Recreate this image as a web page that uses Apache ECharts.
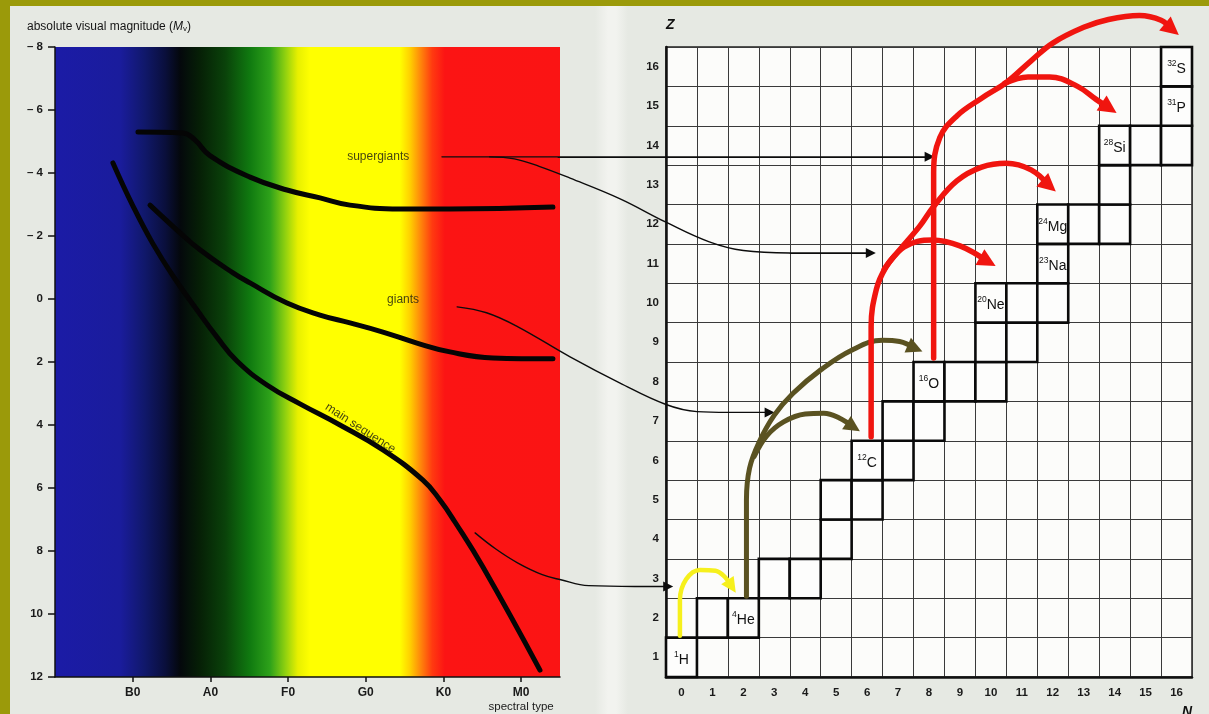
<!DOCTYPE html>
<html><head><meta charset="utf-8">
<script src="https://cdn.jsdelivr.net/npm/echarts@6/dist/echarts.min.js"></script>
<style>
html,body{margin:0;padding:0;background:#9b9a0a;width:1209px;height:714px;overflow:hidden}
#chart{position:absolute;left:10px;top:6px;width:1199px;height:708px;
background:linear-gradient(to right,#e6e9e3 0px,#e6e9e3 585px,#f2f3ef 598px,#f2f3ef 606px,#e6e9e3 618px,#e6e9e3 100%)}
</style></head><body><div id="chart"></div>
<script>
// ---------- data: Hertzsprung-Russell panel ----------
const spectralTypes = ['B0', 'A0', 'F0', 'G0', 'K0', 'M0'];
const spectralPositions = [1, 2, 3, 4, 5, 6];
const magnitudeTicks = [-8, -6, -4, -2, 0, 2, 4, 6, 8, 10, 12];
const mainSequence = [[0.746,-4.32],[1.004,-2.95],[1.261,-1.75],[1.544,-0.64],[1.828,0.35],[2.085,1.21],[2.342,1.97],[2.728,2.73],[3.153,3.33],[3.668,4.00],[4.221,4.79],[4.736,5.75],[4.955,6.38],[5.148,7.08],[5.508,8.51],[6.242,11.78]];
const giants = [[1.223,-2.98],[1.570,-2.19],[1.866,-1.56],[2.291,-0.83],[2.510,-0.51],[2.986,0.13],[3.411,0.51],[3.797,0.76],[4.221,1.05],[4.659,1.40],[5.084,1.68],[5.637,1.87],[6.409,1.90]];
const supergiants = [[1.068,-5.30],[1.647,-5.27],[1.80,-5.05],[1.995,-4.55],[2.510,-3.87],[2.986,-3.46],[3.411,-3.21],[3.797,-2.98],[4.440,-2.86],[5.084,-2.86],[6.409,-2.92]];
const regionNames = ['supergiants', 'giants', 'main sequence'];
const regionAnchors = [[4.16,-4.51],[4.48,0.03],[3.93,4.10]];

// ---------- data: nuclide (N,Z) panel ----------
const neutronNumbers = ['0','1','2','3','4','5','6','7','8','9','10','11','12','13','14','15','16'];
const protonNumbers = ['1','2','3','4','5','6','7','8','9','10','11','12','13','14','15','16'];
const nuclideCells = [[0,1],[1,2],[2,2],[3,3],[4,3],[5,4],[5,5],[6,5],[6,6],[7,6],[7,7],[8,7],[8,8],[9,8],[10,8],[10,9],[11,9],[10,10],[11,10],[12,10],[12,11],[12,12],[13,12],[14,12],[14,13],[14,14],[15,14],[16,14],[16,15],[16,16]];
const nuclideLabels = [[0,1,'1','H'],[2,2,'4','He'],[6,6,'12','C'],[8,8,'16','O'],[10,10,'20','Ne'],[12,11,'23','Na'],[12,12,'24','Mg'],[14,14,'28','Si'],[16,15,'31','P'],[16,16,'32','S']];

// burning paths (N,Z)
const hydrogenBurning = [[-0.05,1.55],[-0.05,2.45],[0.15,2.98],[0.6,3.22],[1.1,3.2],[1.45,3.0],[1.62,2.8]];
const heliumToOxygen = [[2.1,2.55],[2.1,5.0],[2.2,5.8],[2.5,6.45],[3.0,7.15],[3.6,7.7],[4.5,8.3],[5.5,8.8],[6.5,9.05],[7.05,9.02],[7.55,8.85]];
const heliumToCarbon = [[2.35,6.1],[2.75,6.62],[3.3,6.98],[4.0,7.18],[4.6,7.2],[5.1,7.08],[5.55,6.85]];
const carbonToMagnesium = [[6.13,6.6],[6.13,9.4],[6.3,10.35],[6.6,10.9],[7.0,11.3],[7.7,11.95],[8.15,12.45],[8.9,13.1],[9.7,13.45],[10.5,13.55],[11.3,13.38],[11.88,12.98]];
const carbonToNeon = [[6.55,10.85],[7.2,11.42],[8.1,11.6],[9.0,11.45],[9.9,11.05]];
const oxygenToSulfur = [[8.15,8.6],[8.15,13.3],[8.35,14.2],[8.9,14.75],[9.7,15.2],[10.5,15.6],[11.3,16.15],[12.0,16.6],[13.0,17.0],[13.8,17.2],[14.8,17.3],[15.5,17.18],[15.85,16.95]];
const oxygenToSilicon = [[10.45,15.58],[11.2,15.74],[11.9,15.74],[12.8,15.5],[13.4,15.17],[13.82,14.95]];

// connectors from the HR regions (same N,Z units, extended to the left)
const supergiantLinkStraight = [[-7.74,13.71],[-4.0,13.71],[8.02,13.71]];
const supergiantLinkCurved = [[-6.2,13.71],[-5.4,13.66],[-4.6,13.47],[-3.6,13.17],[-2.0,12.65],[-0.5,12.05],[0.9,11.55],[2.0,11.33],[3.5,11.27],[6.12,11.27]];
const giantLink = [[-7.25,9.9],[-6.3,9.75],[-5.3,9.4],[-3.6,8.63],[-2.0,7.97],[-0.5,7.42],[0.5,7.24],[1.5,7.22],[2.85,7.22]];
const mainSequenceLink = [[-6.67,4.16],[-6.0,3.75],[-5.3,3.4],[-4.5,3.1],[-3.9,2.97],[-3.0,2.82],[-1.5,2.8],[-0.43,2.8]];

// ---------- chart ----------
const FONT = 'Liberation Sans, Arial, Helvetica, sans-serif';
const chart = echarts.init(document.getElementById('chart'), null, {renderer: 'canvas'});

const spectrum = new echarts.graphic.LinearGradient(0, 0, 1, 0, [
  {offset: 0.000, color: '#1b1ba6'},
  {offset: 0.129, color: '#1a1c9c'},
  {offset: 0.178, color: '#10186a'},
  {offset: 0.218, color: '#0a0f3c'},
  {offset: 0.248, color: '#04080c'},
  {offset: 0.287, color: '#062006'},
  {offset: 0.337, color: '#0a420a'},
  {offset: 0.386, color: '#107a10'},
  {offset: 0.426, color: '#2ea21a'},
  {offset: 0.455, color: '#8ccf10'},
  {offset: 0.481, color: '#e8f000'},
  {offset: 0.505, color: '#ffff00'},
  {offset: 0.683, color: '#ffff00'},
  {offset: 0.703, color: '#ffd000'},
  {offset: 0.723, color: '#ff8a0a'},
  {offset: 0.747, color: '#ff3a10'},
  {offset: 0.772, color: '#fc1414'},
  {offset: 1.000, color: '#fb1414'}
]);

// right grid: 526 px for 17 columns; the link grid extends it 8 columns to the left
const CELL = 526 / 17;

function path(data, color, width, z, axis) {
  return {type: 'line', xAxisIndex: axis, yAxisIndex: axis, data: data, smooth: 0.4, symbol: 'none',
    clip: false, z: z, silent: true, animation: false,
    lineStyle: {color: color, width: width, cap: 'round', join: 'round'}};
}
function head(data, color, size, z, axis) {
  const n = data.length;
  return {type: 'lines', coordinateSystem: 'cartesian2d', xAxisIndex: axis, yAxisIndex: axis,
    clip: false, z: z, silent: true, animation: false,
    symbol: ['none', 'triangle'], symbolSize: size,
    data: [{coords: [data[n - 2], data[n - 1]]}],
    lineStyle: {color: color, width: 1, opacity: 1, curveness: 0}};
}

const RED = '#f0150f', OLIVE = '#5a5221', YELLOW = '#f6f01c', INK = '#0c0c0c';

const cellData = nuclideCells.map(function (c) {
  const lab = nuclideLabels.find(function (l) { return l[0] === c[0] && l[1] === c[1]; });
  return [c[0], c[1], lab ? lab[2] : '', lab ? lab[3] : ''];
});

const hrCurve = function (data) {
  return {type: 'line', xAxisIndex: 0, yAxisIndex: 0, data: data, smooth: 0.45, symbol: 'none',
    silent: true, animation: false, z: 3,
    lineStyle: {color: '#050505', width: 5, cap: 'round', join: 'round'}};
};

const option = {
  animation: false,
  textStyle: {fontFamily: FONT},
  grid: [
    {left: 45, top: 41, width: 505, height: 630, show: true, backgroundColor: spectrum, borderWidth: 0, outerBoundsMode: 'none'},
    {left: 656, top: 41, width: 526, height: 630, show: true, backgroundColor: '#fcfcfa', borderColor: '#222', borderWidth: 1.5, outerBoundsMode: 'none'},
    {left: 656 - 8 * CELL, top: 41, width: 25 * CELL, height: 630, show: false, outerBoundsMode: 'none'}
  ],
  xAxis: [
    {type: 'value', gridIndex: 0, min: 0, max: 6.5,
      axisLine: {show: true, onZero: false, lineStyle: {color: '#111', width: 1.5}},
      axisTick: {show: true, customValues: spectralPositions, length: 5, lineStyle: {color: '#111', width: 1.5}},
      axisLabel: {customValues: spectralPositions, margin: 9, color: '#1a1a1a',
        formatter: function (v) {
          const i = spectralPositions.indexOf(v);
          if (i < 0) return '';
          return i === spectralTypes.length - 1 ? '{m|' + spectralTypes[i] + '}\n{s|spectral type}' : '{m|' + spectralTypes[i] + '}';
        },
        rich: {m: {fontSize: 12, fontWeight: 'bold', color: '#1a1a1a', fontFamily: FONT, lineHeight: 14},
               s: {fontSize: 11.5, color: '#1a1a1a', fontFamily: FONT, lineHeight: 14}}},
      splitLine: {show: false}},
    {type: 'category', gridIndex: 1, data: neutronNumbers, boundaryGap: true, position: 'bottom',
      axisLine: {show: true, onZero: false, lineStyle: {color: '#111', width: 2.5}},
      axisTick: {show: false},
      axisLabel: {interval: 0, margin: 10, fontSize: 11.5, fontWeight: 'bold', color: '#1a1a1a'},
      splitLine: {show: true, interval: 0, lineStyle: {color: '#3a3a3a', width: 1}}},
    {type: 'value', gridIndex: 1, min: -0.5, max: 16.5, show: false, position: 'top'},
    {type: 'value', gridIndex: 2, min: -8.5, max: 16.5, show: false}
  ],
  yAxis: [
    {type: 'value', gridIndex: 0, inverse: true, min: -8, max: 12, interval: 2,
      axisLine: {show: true, onZero: false, lineStyle: {color: '#111', width: 1.5}},
      axisTick: {show: true, length: 7, lineStyle: {color: '#111', width: 1.5}},
      axisLabel: {margin: 12, fontSize: 11.5, fontWeight: 'bold', color: '#1a1a1a',
        customValues: magnitudeTicks,
        formatter: function (v) { return v < 0 ? '\u2013 ' + (-v) : String(v); }},
      splitLine: {show: false}},
    {type: 'category', gridIndex: 1, data: protonNumbers, boundaryGap: true, position: 'left',
      axisLine: {show: true, onZero: false, lineStyle: {color: '#111', width: 2.5}},
      axisTick: {show: false},
      axisLabel: {interval: 0, margin: 7, fontSize: 11.5, fontWeight: 'bold', color: '#1a1a1a'},
      splitLine: {show: true, interval: 0, lineStyle: {color: '#3a3a3a', width: 1}}},
    {type: 'value', gridIndex: 1, min: 0.5, max: 16.5, show: false, position: 'right'},
    {type: 'value', gridIndex: 2, min: 0.5, max: 16.5, show: false}
  ],
  graphic: [
    {type: 'text', left: 17, top: 15, z: 10, style: {
      text: '{n|absolute visual magnitude (}{i|M}{v|v}{n|)}',
      rich: {n: {fontSize: 12, fill: '#151515', fontFamily: FONT, verticalAlign: 'bottom', lineHeight: 15},
             i: {fontSize: 12, fill: '#151515', fontStyle: 'italic', fontFamily: FONT, verticalAlign: 'bottom', lineHeight: 15},
             v: {fontSize: 8, fill: '#151515', fontFamily: FONT, verticalAlign: 'bottom', lineHeight: 12}}}},
    {type: 'text', left: 656, top: 12, z: 10, style: {text: 'Z', fontSize: 14, fontWeight: 'bold', fontStyle: 'italic', fill: '#111', fontFamily: FONT}},
    {type: 'text', left: 1172, top: 699, z: 10, style: {text: 'N', fontSize: 14, fontWeight: 'bold', fontStyle: 'italic', fill: '#111', fontFamily: FONT}}
  ],
  series: [
    hrCurve(supergiants),
    hrCurve(giants),
    hrCurve(mainSequence),
    {type: 'scatter', xAxisIndex: 0, yAxisIndex: 0, symbolSize: 0, silent: true, z: 4,
      data: regionNames.map(function (name, i) {
        return {name: name, value: regionAnchors[i], label: {rotate: name === 'main sequence' ? -33 : 0}};
      }),
      label: {show: true, position: 'inside', formatter: '{b}', fontSize: 12, color: '#141414', fontFamily: FONT}},
    {type: 'custom', xAxisIndex: 2, yAxisIndex: 2, data: cellData, z: 3, silent: true,
      renderItem: function (params, api) {
        const n = api.value(0), z = api.value(1);
        const tl = api.coord([n - 0.5, z + 0.5]);
        const br = api.coord([n + 0.5, z - 0.5]);
        const cell = cellData[params.dataIndex];
        const children = [{type: 'rect',
          shape: {x: tl[0], y: tl[1], width: br[0] - tl[0], height: br[1] - tl[1]},
          style: {fill: '#fdfdfc', stroke: '#0a0a0a', lineWidth: 2.6}}];
        if (cell[3]) {
          children.push({type: 'text', x: (tl[0] + br[0]) / 2, y: (tl[1] + br[1]) / 2 + 1,
            style: {text: '{s|' + cell[2] + '}{e|' + cell[3] + '}',
              align: 'center', verticalAlign: 'middle', textAlign: 'center', textVerticalAlign: 'middle',
              rich: {s: {fontSize: 8.5, fill: '#111', fontFamily: FONT, verticalAlign: 'top', lineHeight: 10},
                     e: {fontSize: 14, fill: '#111', fontFamily: FONT, verticalAlign: 'bottom', lineHeight: 17}}}});
        }
        return {type: 'group', children: children};
      }},
    path(supergiantLinkStraight, INK, 1.4, 4, 3), head(supergiantLinkStraight, INK, 10, 4, 3),
    path(supergiantLinkCurved, INK, 1.4, 4, 3), head(supergiantLinkCurved, INK, 10, 4, 3),
    path(giantLink, INK, 1.4, 4, 3), head(giantLink, INK, 10, 4, 3),
    path(mainSequenceLink, INK, 1.4, 4, 3), head(mainSequenceLink, INK, 10, 4, 3),
    path(hydrogenBurning, YELLOW, 4.5, 5, 2), head(hydrogenBurning, YELLOW, 15, 6, 2),
    path(heliumToOxygen, OLIVE, 5, 5, 2), head(heliumToOxygen, OLIVE, 16, 6, 2),
    path(heliumToCarbon, OLIVE, 5, 5, 2), head(heliumToCarbon, OLIVE, 16, 6, 2),
    path(carbonToMagnesium, RED, 5.5, 5, 2), head(carbonToMagnesium, RED, 18, 6, 2),
    path(carbonToNeon, RED, 5.5, 5, 2), head(carbonToNeon, RED, 18, 6, 2),
    path(oxygenToSulfur, RED, 5.5, 5, 2), head(oxygenToSulfur, RED, 18, 6, 2),
    path(oxygenToSilicon, RED, 5.5, 5, 2), head(oxygenToSilicon, RED, 18, 6, 2)
  ]
};
chart.setOption(option);
</script></body></html>
